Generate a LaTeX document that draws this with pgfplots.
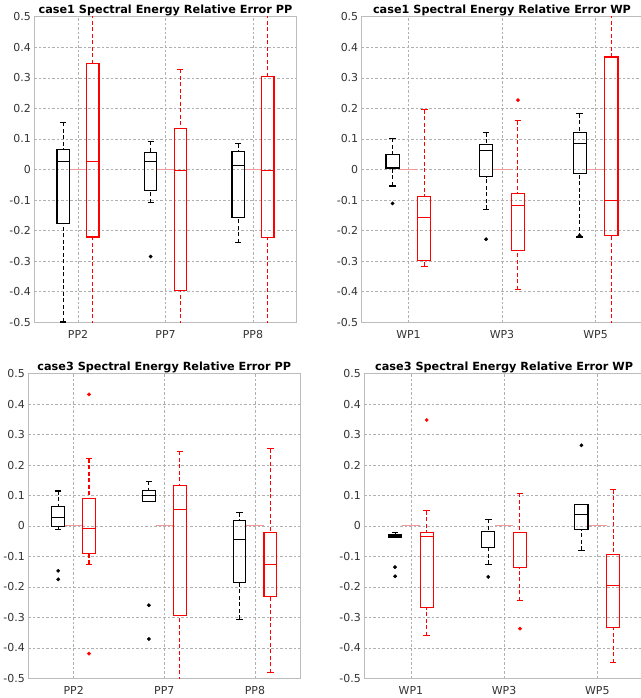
\documentclass[border=0pt]{standalone}
\usepackage{fontspec}
\setmainfont{DejaVu Sans}
\usepackage{pgfplots}
\pgfplotsset{compat=1.18}
\definecolor{gridc}{HTML}{B0B0B0}
\definecolor{spinec}{HTML}{BCBCBC}
\definecolor{zeroc}{HTML}{F29A9A}
\pgfplotsset{
  cstyle/.style={
    scale only axis, anchor=south west,
    xmin=0.5, xmax=3.5, ymin=-0.5, ymax=0.5,
    xtick={1,2,3},
    ytick={-0.5,-0.4,-0.3,-0.2,-0.1,0,0.1,0.2,0.3,0.4,0.5},
    yticklabels={-0.5,-0.4,-0.3,-0.2,-0.1,0,0.1,0.2,0.3,0.4,0.5},
    major tick length=0,
    grid=major,
    major grid style={gridc, line width=0.5bp, dash pattern=on 2.5bp off 2bp},
    axis line style={spinec, line width=0.8bp},
    tick label style={font=\fontsize{11}{13}\selectfont, text=black!80},
    every axis title shift=0pt,
    title style={font=\bfseries\fontsize{11.3}{13}\selectfont, at={(0.5,1)}, anchor=base, yshift=3.4bp},
    xticklabel style={anchor=base, yshift=-16bp},
  }
}
% color, position, lower whisker, q1, median, q3, upper whisker
\newcommand{\mybox}[7]{%
  \pgfmathsetmacro{\xl}{#2-0.07}%
  \pgfmathsetmacro{\xr}{#2+0.07}%
  \pgfmathsetmacro{\cl}{#2-0.035}%
  \pgfmathsetmacro{\cr}{#2+0.035}%
  \edef\tmp{%
    \noexpand\addplot[#1, line width=1.1bp, dash pattern=on 4bp off 2.5bp, forget plot] coordinates {(#2,#3) (#2,#4)};
    \noexpand\addplot[#1, line width=1.1bp, dash pattern=on 4bp off 2.5bp, forget plot] coordinates {(#2,#7) (#2,#6)};
    \noexpand\addplot[#1, line width=1.1bp, forget plot] coordinates {(\cl,#3) (\cr,#3)};
    \noexpand\addplot[#1, line width=1.1bp, forget plot] coordinates {(\cl,#7) (\cr,#7)};
    \noexpand\addplot[#1, line width=1.1bp, line cap=rect, line join=miter, forget plot] coordinates {(\xl,#4) (\xr,#4) (\xr,#6) (\xl,#6) (\xl,#4)};
    \noexpand\addplot[#1, line width=1.1bp, forget plot] coordinates {(\xl,#5) (\xr,#5)};
  }\tmp}
\newcommand{\outl}[2]{\addplot[#1, only marks, mark=*, mark size=1.7bp, forget plot] coordinates {#2};}
\newcommand{\zeroseg}{%
  \addplot[zeroc, line width=1bp, forget plot] coordinates {(0.905,0) (1.1,0)};
  \addplot[zeroc, line width=1bp, forget plot] coordinates {(1.905,0) (2.1,0)};
  \addplot[zeroc, line width=1bp, forget plot] coordinates {(2.905,0) (3.1,0)};}
\begin{document}
\begin{tikzpicture}
\useasboundingbox (0,0) rectangle (641bp,698bp);
% top-left
\begin{axis}[cstyle, at={(34.3bp,375.7bp)}, width=262.4bp, height=305.6bp,
  xticklabels={PP2,PP7,PP8}, title={case1 Spectral Energy Relative Error PP}]
\zeroseg
\mybox{black}{0.83}{-0.499}{-0.176}{0.027}{0.065}{0.154}
\mybox{black}{1.83}{-0.109}{-0.069}{0.027}{0.057}{0.093}
\outl{black}{(1.83,-0.285)}
\mybox{black}{2.83}{-0.239}{-0.156}{0.014}{0.059}{0.084}
\mybox{red}{1.17}{-0.7}{-0.221}{0.027}{0.346}{0.7}
\mybox{red}{2.17}{-0.7}{-0.397}{-0.004}{0.135}{0.328}
\mybox{red}{3.17}{-0.7}{-0.224}{-0.004}{0.304}{0.7}
\end{axis}
% top-right
\begin{axis}[cstyle, at={(361.7bp,375.7bp)}, width=280.6bp, height=305.6bp,
  xticklabels={WP1,WP3,WP5}, title={case1 Spectral Energy Relative Error WP}]
\zeroseg
\mybox{black}{0.83}{-0.054}{0.005}{0.048}{0.050}{0.102}
\outl{black}{(0.83,-0.111)}
\mybox{black}{1.83}{-0.130}{-0.023}{0.061}{0.082}{0.121}
\outl{black}{(1.83,-0.228)}
\mybox{black}{2.83}{-0.221}{-0.012}{0.084}{0.121}{0.182}
\outl{black}{(2.83,-0.216)}
\mybox{red}{1.17}{-0.317}{-0.298}{-0.156}{-0.088}{0.195}
\mybox{red}{2.17}{-0.393}{-0.264}{-0.117}{-0.078}{0.159}
\outl{red}{(2.17,0.227)}
\mybox{red}{3.17}{-0.7}{-0.215}{-0.101}{0.368}{0.7}
\end{axis}
% bottom-left
\begin{axis}[cstyle, at={(28.3bp,19.7bp)}, width=272bp, height=304.6bp,
  xticklabels={PP2,PP7,PP8}, title={case3 Spectral Energy Relative Error PP}]
\zeroseg
\mybox{black}{0.83}{-0.011}{-0.002}{0.027}{0.065}{0.115}
\outl{black}{(0.83,-0.147) (0.83,-0.175)}
\mybox{black}{1.83}{0.080}{0.080}{0.100}{0.118}{0.147}
\outl{black}{(1.83,-0.260) (1.83,-0.371)}
\mybox{black}{2.83}{-0.306}{-0.185}{-0.043}{0.018}{0.044}
\mybox{red}{1.17}{-0.126}{-0.090}{-0.009}{0.090}{0.221}
\outl{red}{(1.17,0.432) (1.17,-0.419)}
\mybox{red}{2.17}{-0.7}{-0.295}{0.054}{0.132}{0.246}
\mybox{red}{3.17}{-0.482}{-0.232}{-0.125}{-0.020}{0.253}
\end{axis}
% bottom-right
\begin{axis}[cstyle, at={(364.3bp,19.7bp)}, width=279.6bp, height=304.6bp,
  xticklabels={WP1,WP3,WP5}, title={case3 Spectral Energy Relative Error WP}]
\zeroseg
\mybox{black}{0.83}{-0.036}{-0.036}{-0.032}{-0.027}{-0.020}
\outl{black}{(0.83,-0.135) (0.83,-0.165)}
\mybox{black}{1.83}{-0.126}{-0.071}{-0.019}{-0.019}{0.022}
\outl{black}{(1.83,-0.167)}
\mybox{black}{2.83}{-0.079}{-0.011}{0.038}{0.072}{0.072}
\outl{black}{(2.83,0.265)}
\mybox{red}{1.17}{-0.360}{-0.268}{-0.033}{-0.022}{0.050}
\outl{red}{(1.17,0.348)}
\mybox{red}{2.17}{-0.245}{-0.137}{-0.020}{-0.020}{0.107}
\outl{red}{(2.17,-0.337)}
\mybox{red}{3.17}{-0.449}{-0.333}{-0.195}{-0.094}{0.119}
\end{axis}
\end{tikzpicture}
\end{document}
